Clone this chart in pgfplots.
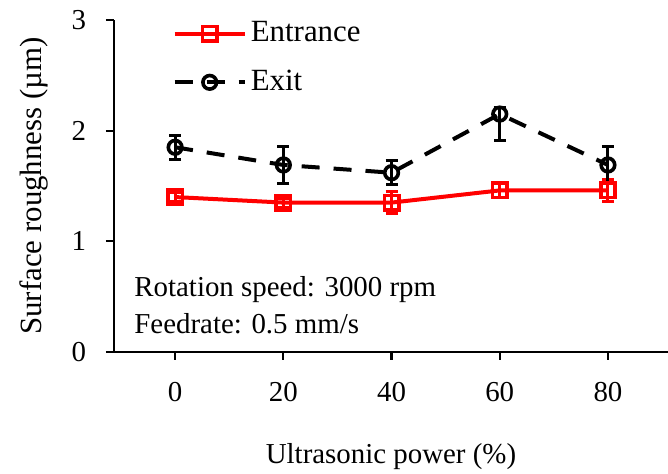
\documentclass[border=0pt]{standalone}
\usepackage{pgfplots}
\pgfplotsset{compat=1.18}
\usepackage{fontspec}
\setmainfont{Liberation Serif}
\begin{document}
\fontsize{14.5}{17}\selectfont
\begin{tikzpicture}
\begin{axis}[
  name=ax,
  scale only axis=true,
  width=277bp, height=166bp,
  xmin=-11.3, xmax=91.1, ymin=0, ymax=3,
  axis x line*=bottom, axis y line*=left,
  axis line style={line width=1.1pt,-},
  xtick={0,20,40,60,80}, ytick={0,1,2,3},
  tick align=outside, major tick length=4bp,
  tick style={line width=1.1pt,black},
  /pgf/number format/assume math mode=true,
  ticklabel style={font=\fontsize{14.5}{17}\selectfont},
  xticklabel style={yshift=-6bp},
  yticklabel style={xshift=-5bp},
  xlabel={Ultrasonic power (\%)},
  ylabel={Surface roughness (\textmu m)},
  xlabel style={yshift=-11bp},
  ylabel style={yshift=2bp, font=\fontsize{15.5}{18}\selectfont},
  legend style={draw=none, fill=none, at={(0.105,1.009)}, anchor=north west,
    font=\fontsize{15.5}{18}\selectfont, row sep=8bp, inner sep=0pt},
  legend cell align=left,
  legend image code/.code={
    \draw[#1,mark repeat=2,mark phase=2] plot coordinates {(0cm,0cm) (0.62cm,0cm) (1.24cm,0cm)};},
  clip=false,
]
\addplot[red, line width=2bp, mark=square, mark size=3.6bp,
  mark options={solid, line width=1.8bp, fill=white},
  error bars/.cd, y dir=both, y explicit,
  error bar style={line width=1.5bp, solid}, error mark options={rotate=90, mark size=3bp, line width=1.5bp}]
coordinates {
 (0,1.40) +- (0,0.04)
 (20,1.35) +- (0,0.04)
 (40,1.35) +- (0,0.10)
 (60,1.46) +- (0,0.06)
 (80,1.46) +- (0,0.10)
};
\addlegendentry{Entrance}
\addplot[black, line width=2bp, dash pattern=on 9bp off 7bp, mark=o, mark size=3.4bp,
  mark options={solid, line width=1.8bp, fill=white},
  error bars/.cd, y dir=both, y explicit,
  error bar style={line width=1.5bp, solid}, error mark options={rotate=90, mark size=3bp, line width=1.5bp}]
coordinates {
 (0,1.85) +- (0,0.11)
 (20,1.69) +- (0,0.17)
 (40,1.62) +- (0,0.11)
 (60,2.15) += (0,0.06) -= (0,0.24)
 (80,1.69) +- (0,0.17)
};
\addlegendentry{Exit}
\node[anchor=base west, align=left, inner sep=0pt] at (axis cs:-7.6,0.50) {Rotation speed: 3000 rpm};
\node[anchor=base west, align=left, inner sep=0pt] at (axis cs:-7.6,0.17) {Feedrate: 0.5 mm/s};
\end{axis}
\pgfresetboundingbox
\path[use as bounding box] ([xshift=-57bp,yshift=-61bp]ax.south west) rectangle ([yshift=10bp]ax.north east);
\end{tikzpicture}
\end{document}
